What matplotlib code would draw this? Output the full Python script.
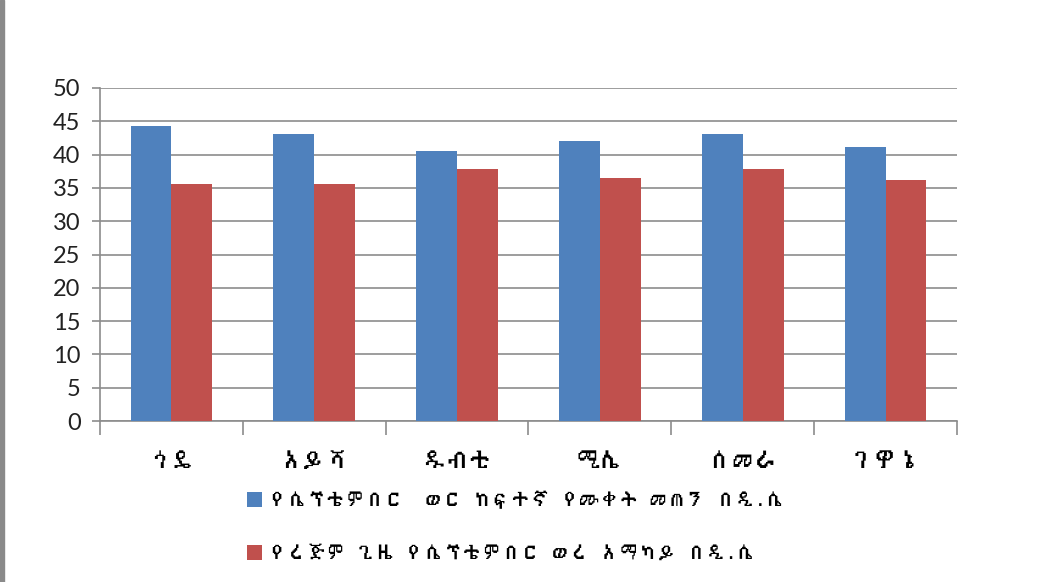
import numpy as np
import matplotlib
matplotlib.use("Agg")
from matplotlib import pyplot as plt
from matplotlib import font_manager
from matplotlib.ft2font import FT2Font
from matplotlib.patches import Rectangle

# datos del gráfico
categories = ["ጎዴ", "አይሻ", "ዱብቲ", "ሚሌ", "ሰመራ", "ገዋኔ"]
max_temp = [44.3, 43.1, 40.5, 42.0, 43.1, 41.1]
mean_temp = [35.6, 35.6, 37.8, 36.5, 37.8, 36.2]
series_names = ["የሴፕቴምበር  ወር ከፍተኛ የሙቀት መጠን በዲ.ሴ",
                "የረጅም ጊዜ የሴፕቴምበር ወረ አማካይ በዲ.ሴ"]
y_ticks = [0, 5, 10, 15, 20, 25, 30, 35, 40, 45, 50]

BLUE = "#4f81bd"
RED = "#c0504d"
GRID = "#8c8c8c"


def find_ethiopic_font():
    # busca una fuente instalada que tenga glifos etíopes
    seen = set()
    for f in font_manager.fontManager.ttflist:
        if f.name in seen:
            continue
        seen.add(f.name)
        try:
            cmap = FT2Font(f.fname).get_charmap()
        except Exception:
            continue
        if 0x12A0 in cmap and 0x1230 in cmap:
            return f.name
    return None


eth = find_ethiopic_font()
families = ([eth] if eth else []) + ["Lato", "DejaVu Sans"]
plt.rcParams["font.family"] = families

fig = plt.figure(figsize=(10.45, 5.82), dpi=100)
ax = fig.add_axes([100 / 1045, 1 - 421 / 582, 857 / 1045, 333 / 582])

x = np.arange(len(categories))
w = 1 / 3.5
ax.bar(x - w / 2, max_temp, w, color=BLUE, label=series_names[0], zorder=3)
ax.bar(x + w / 2, mean_temp, w, color=RED, label=series_names[1], zorder=3)

ax.set_xlim(-0.5, len(categories) - 0.5)
ax.set_ylim(0, 50)
ax.set_yticks(y_ticks)
ax.set_yticklabels([str(v) for v in y_ticks], fontsize=17, color="#222222",
                   family=["Lato", "DejaVu Sans"])
ax.yaxis.grid(True, color=GRID, linewidth=1.2, zorder=0)

ax.set_xticks(np.arange(len(categories) + 1) - 0.5)
ax.set_xticklabels([])
ax.set_xticks(x, minor=True)
ax.set_xticklabels(categories, minor=True, fontsize=17, color="black")
ax.tick_params(axis="x", which="major", length=10, color=GRID, width=1.2)
ax.tick_params(axis="x", which="minor", length=0, pad=22)
ax.tick_params(axis="y", length=6, color=GRID, width=1.2, pad=8)

for s in ["top", "right"]:
    ax.spines[s].set_visible(False)
for s in ["left", "bottom"]:
    ax.spines[s].set_color(GRID)
    ax.spines[s].set_linewidth(1.2)

fig.legend(loc="upper left", bbox_to_anchor=(229 / 1045, 1 - 473 / 582),
           frameon=False, fontsize=14, labelspacing=1.85,
           handlelength=0.8, handleheight=0.8, handletextpad=0.3)

# borde gris a la izquierda
fig.add_artist(Rectangle((0, 0), 4 / 1045, 1, transform=fig.transFigure,
                         color="#8a8a8a"))

fig.savefig("out.png", dpi=100)
